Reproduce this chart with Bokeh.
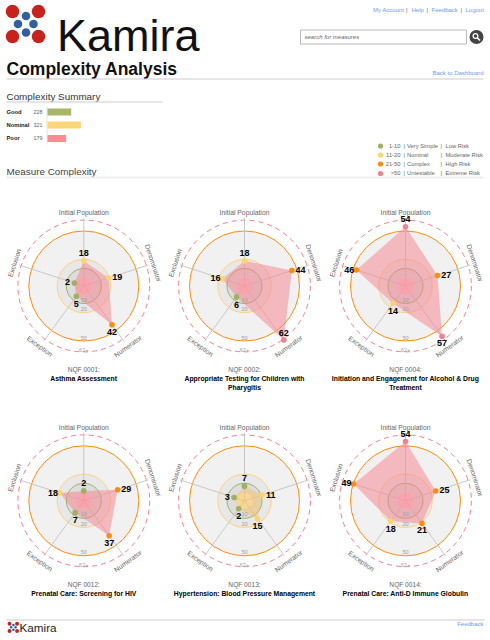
import math
from bokeh.plotting import figure
from bokeh.models import Range1d
from bokeh.embed import file_html
from bokeh.resources import INLINE

summary_labels = ["Good", "Nominal", "Poor"]
summary_values = [228, 321, 179]
axes_names = ["Initial Population", "Denominator", "Numerator", "Exception", "Exclusion"]
measure_codes = ["NQF 0001:", "NQF 0002:", "NQF 0004:", "NQF 0012:", "NQF 0013:", "NQF 0014:"]
measure_titles = [
    ["Asthma Assessment"],
    ["Appropriate Testing for Children with", "Pharygitis"],
    ["Initiation and Engagement for Alcohol & Drug", "Treatment"],
    ["Prenatal Care: Screening for HIV"],
    ["Hypertension: Blood Pressure Management"],
    ["Prenatal Care: Anti-D Immune Globulin"],
]
v0001 = [18, 19, 42, 5, 2]
v0002 = [18, 44, 62, 6, 16]
v0004 = [54, 27, 57, 14, 46]
v0012 = [2, 29, 37, 7, 18]
v0013 = [7, 11, 15, 2, 3]
v0014 = [54, 25, 21, 18, 49]
ring_labels = ["10", "20", "50", "62+"]
ring_label_values = [7, 17, 47, 60]
legend_ranges = ["1-10", "11-20", "21-50", ">50"]
legend_names = ["Very Simple", "Nominal", "Complex", "Untestable"]
legend_risks = ["Low Risk", "Moderate Risk", "High Risk", "Extreme Risk"]

GREEN, YELLOW, ORANGE, PINK = "#9db063", "#ffd36e", "#ff8c0a", "#f77f8e"
LINK = "#6f9bf0"
FONT = "Liberation Sans"

p = figure(width=490, height=640, output_backend="svg", toolbar_location=None,
           x_range=Range1d(0, 490), y_range=Range1d(640, 0),
           min_border=0, outline_line_color=None, background_fill_color="white",
           border_fill_color="white")
p.axis.visible = False
p.grid.visible = False


def T(x, y, s, size=6, color="#333333", style="normal", align="left", angle=0, font=FONT):
    p.text([x], [y - 0.5], text=[s], text_font_size=f"{size}px", text_color=color, text_font_style=style,
           text_align=align, text_baseline="middle", angle=angle, text_font=dict(value=font))


def rule(x0, x1, y, color="#cccccc", w=1):
    p.segment([x0], [y], [x1], [y], line_color=color, line_width=w)


def disc(x, y, r, fill, line=None, w=1, alpha=1.0):
    p.circle([x], [y], radius=r, fill_color=fill, fill_alpha=alpha, line_color=line, line_width=w)


def logo(ox, oy, s):
    for dx, dy in [(0, 0), (26, 0), (0, 25), (26, 25)]:
        disc(ox + dx * s, oy + dy * s, 6.7 * s, "#c9211b")
    for dx, dy in [(13.5, 4.5), (5.5, 12.5), (21, 12.5), (13.5, 21)]:
        disc(ox + dx * s, oy + dy * s, 4.3 * s, "#2f609f")


# header
logo(12, 11, 1)
T(56.5, 35.5, "Kamira", size=45, color="#111111")
T(6, 68.5, "Complexity Analysis", size=17.5, color="#111111", style="bold")
rule(6, 483, 78.5)
for s, xs in [("My Account", 372.5), ("|", 405.5), ("Help", 411), ("|", 426), ("Feedback", 431), ("|", 460), ("Logout", 465)]:
    T(xs, 9.5, s, size=6, color="#666666" if s == "|" else LINK)
p.quad([300], [466], [29.5], [43.5], fill_color="white", line_color="#bbbbbb", line_width=1)
T(304, 36.5, "search for measures", size=6, color="#666666", style="italic")
disc(476, 36.5, 7, "#444444")
disc(475, 35.5, 2.4, "#444444", "white", 1.3)
p.segment([476.8], [37.3], [479.5], [40], line_color="white", line_width=1.6)
T(483, 72.5, "Back to Dashboard", size=6, color=LINK, align="right")

# summary
T(6, 96.5, "Complexity Summary", size=9.9, color="#333333")
rule(6, 162, 101.5)
p.segment([46.5], [106], [46.5], [144], line_color="#e4e4e4", line_width=1)
bar_y = [111.5, 124.5, 138]
bar_col = ["#a7b76a", "#ffd57a", "#ff8a94"]
BAR_SCALE = 0.104
for lab, val, yy, c in zip(summary_labels, summary_values, bar_y, bar_col):
    T(6, yy, lab, size=5.8, color="#222222", style="bold")
    T(33, yy, str(val), size=5.4, color="#666666")
    p.quad([47], [47 + val * BAR_SCALE], [yy - 3.5], [yy + 3.5], fill_color=c, line_color=None)

T(6, 171.5, "Measure Complexity", size=9.9, color="#444444")
rule(6, 483, 177, "#eeeeee", 2)

# legend
leg_col = [GREEN, YELLOW, ORANGE, PINK]
for i, yy in enumerate([145.5, 154.5, 163.5, 173]):
    disc(380, yy, 2.6, leg_col[i])
    T(400, yy, legend_ranges[i], size=5.8, color="#666666", align="right")
    T(403, yy, "|", size=5.8, color="#666666")
    T(406.5, yy, legend_names[i], size=5.8, color="#666666")
    T(440, yy, "|", size=5.8, color="#666666")
    T(445, yy, legend_risks[i], size=5.8, color="#666666")

# footer
rule(6, 484, 619.5)
logo(9, 623.2, 0.29)
T(19, 627, "Kamira", size=11.7, color="#222222")
T(483, 624, "Feedback", size=6, color=LINK, align="right")


def vr(v):
    return 8 + 0.95 * v


def col(v):
    return GREEN if v <= 10 else YELLOW if v <= 20 else ORANGE if v <= 50 else PINK


label_off = {0: (0, -7.5), 1: (8.7, 0), 2: (0, 7.5), 3: (0, 8), 4: (-7, 0)}
rot = [0, -72, 36, -36, 72]
lab_r = [73, 73, 75, 75, 73]


def radar(cx, cy, values, code, title):
    ang = [math.radians(72 * i) for i in range(5)]
    disc(cx, cy, vr(62) - 1, None, "#f27f8e", 1)
    p.renderers[-1].glyph.line_dash = "5 4"
    disc(cx, cy, vr(50) - 0.5, "#f1f1f1", ORANGE, 1)
    disc(cx, cy, vr(20) - 0.3, "#e8e8e8", "#ffd27a", 1)
    disc(cx, cy, vr(10), "#dddddd", "#9db063", 1)
    worst = max(values)
    disc(cx, cy, 8, "#ffc4cb" if worst > 20 else "#ffedc0")
    for a in ang:
        p.segment([cx], [cy], [cx + 68 * math.sin(a)], [cy - 68 * math.cos(a)], line_color="#c8c8c8", line_width=1)
    xs = [cx + vr(v) * math.sin(a) for v, a in zip(values, ang)]
    ys = [cy - vr(v) * math.cos(a) for v, a in zip(values, ang)]
    p.patch(xs, ys, fill_color=PINK if worst > 20 else "#f5c060", fill_alpha=0.5, line_color=None)
    for lab, val in zip(ring_labels, ring_label_values):
        T(cx, cy + vr(val) - 0.5, lab, size=5.6, color="#a0a0a0", align="center")
    for i, (name, a) in enumerate(zip(axes_names, ang)):
        T(cx + lab_r[i] * math.sin(a), cy - lab_r[i] * math.cos(a), name, size=6.8, color="#666666",
          align="center", angle=math.radians(rot[i]))
    p.circle(xs, ys, radius=2.8, fill_color=[col(v) for v in values], line_color=None)
    for i, v in enumerate(values):
        dx, dy = label_off[i]
        if i == 2 and v >= 60:
            dy = -7
        T(xs[i] + dx, ys[i] + dy, str(v), size=9, color="#000000", style="bold", align="center")
    ty = cy + 84
    T(cx, ty, code, size=6.6, color="#666666", align="center")
    for k, line in enumerate(title):
        T(cx, ty + 9 + k * 8.5, line, size=6.8, color="#000000", style="bold", align="center")


centers = [(83.3, 285.5), (244, 285.5), (405, 285.5), (83.3, 500.3), (244, 500.3), (405, 500.3)]
series = [v0001, v0002, v0004, v0012, v0013, v0014]
for (cx, cy), vals, code, title in zip(centers, series, measure_codes, measure_titles):
    radar(cx, cy, vals, code, title)

open("out.html", "w").write(file_html(p, INLINE))
